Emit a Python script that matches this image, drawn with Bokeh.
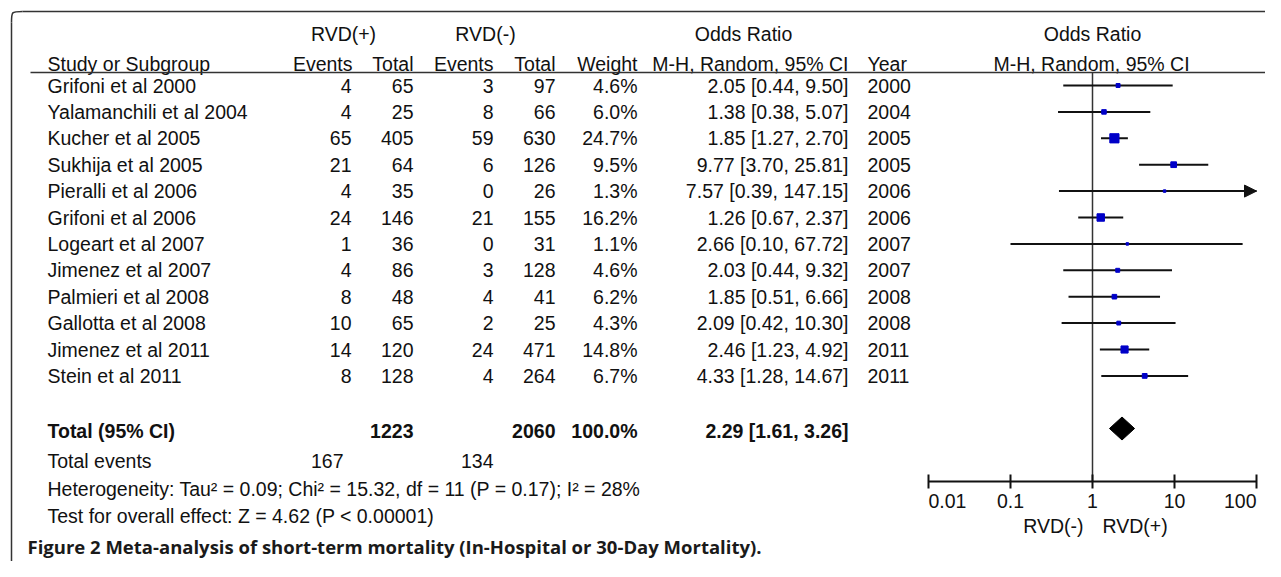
import math
from bokeh.plotting import figure
from bokeh.models import (ColumnDataSource, Range1d, LogScale, LogAxis, FixedTicker,
                          Arrow, NormalHead)
from bokeh.core.properties import value
from bokeh.embed import file_html
from bokeh.resources import INLINE

# ---------------- data ----------------
studies = ["Grifoni et al 2000", "Yalamanchili et al 2004", "Kucher et al 2005",
           "Sukhija et al 2005", "Pieralli et  al 2006", "Grifoni et al 2006",
           "Logeart et al 2007", "Jimenez et al 2007", "Palmieri et al 2008",
           "Gallotta et al 2008", "Jimenez et al 2011", "Stein et al 2011"]
ev_pos = [4, 4, 65, 21, 4, 24, 1, 4, 8, 10, 14, 8]
tot_pos = [65, 25, 405, 64, 35, 146, 36, 86, 48, 65, 120, 128]
ev_neg = [3, 8, 59, 6, 0, 21, 0, 3, 4, 2, 24, 4]
tot_neg = [97, 66, 630, 126, 26, 155, 31, 128, 41, 25, 471, 264]
weights = [4.6, 6.0, 24.7, 9.5, 1.3, 16.2, 1.1, 4.6, 6.2, 4.3, 14.8, 6.7]
or_est = [2.05, 1.38, 1.85, 9.77, 7.57, 1.26, 2.66, 2.03, 1.85, 2.09, 2.46, 4.33]
ci_lo = [0.44, 0.38, 1.27, 3.70, 0.39, 0.67, 0.10, 0.44, 0.51, 0.42, 1.23, 1.28]
ci_hi = [9.50, 5.07, 2.70, 25.81, 147.15, 2.37, 67.72, 9.32, 6.66, 10.30, 4.92, 14.67]
years = [2000, 2004, 2005, 2005, 2006, 2006, 2007, 2007, 2008, 2008, 2011, 2011]

total_pos = 1223
total_neg = 2060
total_weight = 100.0
total_or = 2.29
total_lo = 1.61
total_hi = 3.26
total_events_pos = 167
total_events_neg = 134
heterogeneity = "Heterogeneity: Tau\u00b2 = 0.09; Chi\u00b2 = 15.32, df = 11 (P = 0.17); I\u00b2 = 28%"
overall = "Test for overall effect: Z = 4.62 (P < 0.00001)"
caption = "Figure 2 Meta-analysis of short-term mortality (In-Hospital or 30-Day Mortality)."

axis_ticks = [0.01, 0.1, 1, 10, 100]
axis_tick_labels = ["0.01", "0.1", "1", "10", "100"]
axis_min, axis_max = 0.01, 100

# ---------------- layout ----------------
W, H = 1265, 561
FONT = value("Liberation Sans")
FS = "19.5px"
TXT = "#111111"

p = figure(width=W, height=H, x_range=Range1d(0, W), y_range=Range1d(H, 0),
           x_axis_type=None, y_axis_type=None, output_backend="svg",
           toolbar_location=None, min_border=0, outline_line_color=None,
           background_fill_color="white", border_fill_color="white")

# log scale for the forest part (1 at px 1092, 82 px per decade)
PX1, DEC = 1092.0, 82.0
p.extra_x_ranges = {"or": Range1d(start=10 ** ((0 - PX1) / DEC), end=10 ** ((W - PX1) / DEC))}
p.extra_x_scales = {"or": LogScale()}

ROW0, ROWH = 85.0, 26.4
row_y = [ROW0 + i * ROWH for i in range(len(studies))]
Y_TOTAL, Y_TEV, Y_HET, Y_TEST = 430, 460, 488, 515
Y_AXIS = 481


def txt(x, y, t, align="left", bold=False, font=FONT, size=FS, color=TXT, rng="default"):
    src = ColumnDataSource(dict(x=x, y=y, t=t))
    p.text(x="x", y="y", text="t", source=src, text_align=align, text_baseline="middle",
           text_font=font, text_font_size=size, text_color=color,
           text_font_style="bold" if bold else "normal", x_range_name=rng)


# frame (top + left with rounded corner)
p.line(x=[22, W], y=[11, 11], line_color="#333333", line_width=1.5)
p.line(x=[11, 11], y=[22, H], line_color="#333333", line_width=1.5)
p.bezier(x0=[11], y0=[22], x1=[22], y1=[11], cx0=[11], cy0=[11], cx1=[11], cy1=[11],
         line_color="#333333", line_width=1.5)

# headers
txt([343, 485, 743, 1092], [33] * 4, ["RVD(+)", "RVD(-)", "Odds Ratio", "Odds Ratio"], align="center")
txt([47, 867], [63, 63], ["Study or Subgroup", "Year"])
txt([352, 413, 493, 555, 637, 848], [63] * 6,
    ["Events", "Total", "Events", "Total", "Weight", "M-H, Random, 95% CI"], align="right")
txt([1091], [63], ["M-H, Random, 95% CI"], align="center")
p.line(x=[30, W], y=[72, 72], line_color="#333333", line_width=1.5)

# study rows
n = len(studies)
txt([47] * n, row_y, studies)
txt([351] * n, row_y, [str(v) for v in ev_pos], align="right")
txt([413] * n, row_y, [str(v) for v in tot_pos], align="right")
txt([493] * n, row_y, [str(v) for v in ev_neg], align="right")
txt([555] * n, row_y, [str(v) for v in tot_neg], align="right")
txt([637] * n, row_y, [f"{w:.1f}%" for w in weights], align="right")
txt([848] * n, row_y, [f"{o:.2f} [{l:.2f}, {h:.2f}]" for o, l, h in zip(or_est, ci_lo, ci_hi)], align="right")
txt([867] * n, row_y, [str(y) for y in years])

# totals
txt([47], [Y_TOTAL], ["Total (95% CI)"], bold=True)
txt([413, 555, 637, 848], [Y_TOTAL] * 4,
    [str(total_pos), str(total_neg), f"{total_weight:.1f}%",
     f"{total_or:.2f} [{total_lo:.2f}, {total_hi:.2f}]"], align="right", bold=True)
txt([47], [Y_TEV], ["Total events"])
txt([343, 493], [Y_TEV] * 2, [str(total_events_pos), str(total_events_neg)], align="right")
txt([47, 47], [Y_HET, Y_TEST], [heterogeneity, overall])

# forest plot
p.segment(x0=[1], y0=[72], x1=[1], y1=[Y_AXIS], x_range_name="or",
          line_color="#333333", line_width=1.5)

ci_src = ColumnDataSource(dict(lo=ci_lo, hi=[min(h, axis_max) for h in ci_hi], y=row_y))
p.segment(x0="lo", y0="y", x1="hi", y1="y", source=ci_src, x_range_name="or",
          line_color="#111111", line_width=2)

clip_idx = [i for i, h in enumerate(ci_hi) if h > axis_max]
arrow_src = ColumnDataSource(dict(x0=[axis_max * 0.8 for _ in clip_idx],
                                  x1=[axis_max for _ in clip_idx],
                                  y=[row_y[i] for i in clip_idx]))
p.add_layout(Arrow(end=NormalHead(size=12, fill_color="#111111", line_color="#111111"),
                   x_start="x0", y_start="y", x_end="x1", y_end="y", source=arrow_src,
                   x_range_name="or", line_color="#111111", line_width=2))

sq_src = ColumnDataSource(dict(x=or_est, y=row_y, s=[max(2.5, 1.85 * math.sqrt(w)) for w in weights]))
p.scatter(x="x", y="y", size="s", marker="square", source=sq_src, x_range_name="or",
          fill_color="#0000c8", line_color="#0000c8")

DH = 11.5
p.patch(x=[total_lo, total_or, total_hi, total_or],
        y=[Y_TOTAL - 2, Y_TOTAL - 2 - DH, Y_TOTAL - 2, Y_TOTAL - 2 + DH],
        x_range_name="or", fill_color="black", line_color="black")

ax = LogAxis(x_range_name="or", fixed_location=Y_AXIS, bounds=(axis_min, axis_max),
             ticker=FixedTicker(ticks=axis_ticks),
             axis_line_color="#111111", axis_line_width=2,
             major_tick_line_color="#111111", major_tick_line_width=2,
             major_tick_in=7, major_tick_out=7, minor_tick_line_color=None,
             major_label_text_color=None, major_label_text_font_size="1px")
p.add_layout(ax, "below")

# tick labels (first left-aligned, last right-aligned, as in the reference)
txt(axis_ticks[:1], [500], axis_tick_labels[:1], align="left", rng="or")
txt(axis_ticks[1:-1], [500] * (len(axis_ticks) - 2), axis_tick_labels[1:-1], align="center", rng="or")
txt(axis_ticks[-1:], [500], axis_tick_labels[-1:], align="right", rng="or")

txt([1083], [525], ["RVD(-)"], align="right")
txt([1102], [525], ["RVD(+)"])

# caption
txt([27], [546], [caption], bold=True, font=value("Open Sans"), size="18.5px", color="#1a1a1a")

open("out.html", "w").write(file_html(p, INLINE))
